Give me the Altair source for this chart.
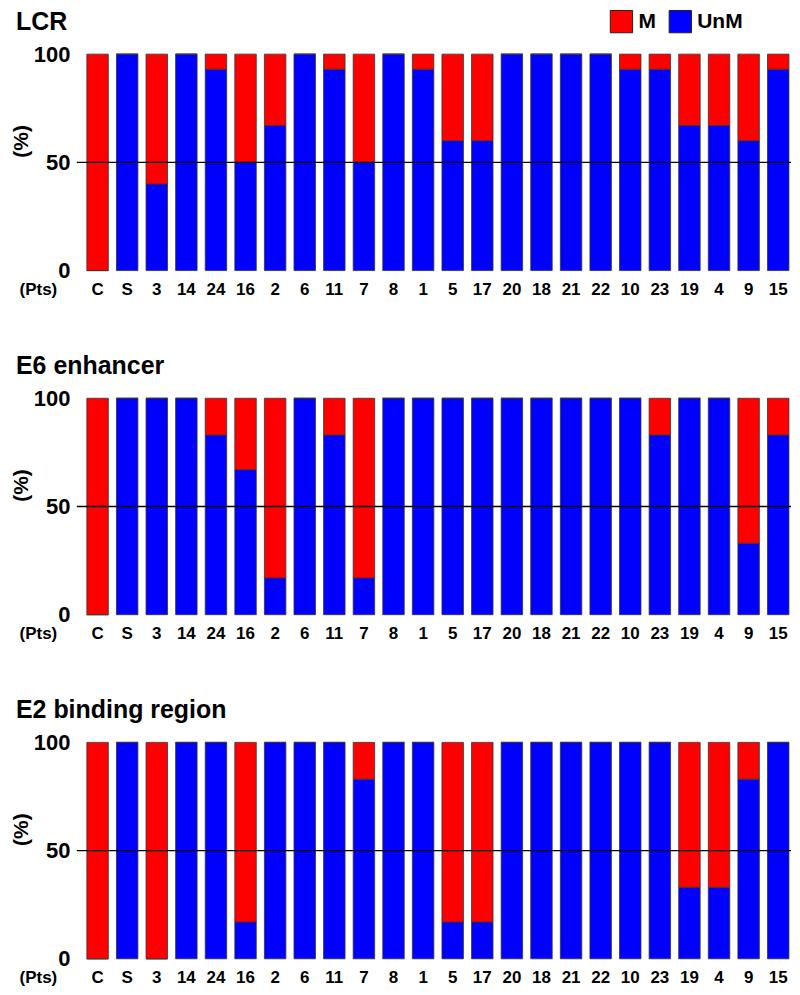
import altair as alt
import pandas as pd

pts = ["C", "S", "3", "14", "24", "16", "2", "6", "11", "7", "8", "1",
       "5", "17", "20", "18", "21", "22", "10", "23", "19", "4", "9", "15"]

regions = ["LCR", "E6 enhancer", "E2 binding region"]

# percentage of unmethylated (UnM) clones per patient; M = 100 - UnM
lcr_unm = [0, 100, 40, 100, 93, 50, 67, 100, 93, 50, 100, 93,
           60, 60, 100, 100, 100, 100, 93, 93, 67, 67, 60, 93]
e6_unm = [0, 100, 100, 100, 83, 67, 17, 100, 83, 17, 100, 100,
          100, 100, 100, 100, 100, 100, 100, 83, 100, 100, 33, 83]
e2_unm = [0, 100, 0, 100, 100, 17, 100, 100, 100, 83, 100, 100,
          17, 17, 100, 100, 100, 100, 100, 100, 33, 33, 83, 100]

status_names = ["M", "UnM"]
status_colors = ["#ff0000", "#0000ff"]

FONT = "Liberation Sans"


def make_df(unm):
    rows = []
    for p, u in zip(pts, unm):
        rows.append({"pt": p, "status": "UnM", "value": u, "ord": 0})
        rows.append({"pt": p, "status": "M", "value": 100 - u, "ord": 1})
    return pd.DataFrame(rows)


def panel(title, unm):
    df = make_df(unm)
    color_legend = alt.Legend(
        title=None, orient="none", direction="horizontal",
        legendX=534, legendY=-45,
        symbolType="square", symbolSize=500, symbolStrokeColor="#222",
        symbolStrokeWidth=1, symbolOpacity=1,
        labelFontSize=21, labelFontWeight="bold", labelFont=FONT,
        labelColor="black", labelOffset=5, columnPadding=10,
    )
    bars = alt.Chart(df).mark_bar(stroke="#333", strokeWidth=0.8, opacity=1).encode(
        x=alt.X("pt:N", sort=pts,
                scale=alt.Scale(paddingInner=0.275, paddingOuter=0.204, align=0.83),
                axis=alt.Axis(title="(Pts)", labelAngle=0, labelFontSize=17,
                              labelFontWeight="bold", labelFont=FONT,
                              labelColor="black", labelPadding=11,
                              ticks=False, domain=False,
                              titleFontSize=17, titleFontWeight="bold",
                              titleFont=FONT, titleColor="black",
                              titleX=-39, titleY=11, titleAlign="center",
                              titleBaseline="top")),
        y=alt.Y("value:Q", stack="zero",
                scale=alt.Scale(domain=[0, 100], nice=False),
                axis=alt.Axis(title="(%)", values=[0, 50, 100], grid=False,
                              ticks=False, domain=False, labelFontSize=22,
                              labelFontWeight="bold", labelFont=FONT,
                              labelColor="black", labelPadding=7,
                              titleFontSize=21, titleFontWeight="bold",
                              titleFont=FONT, titleColor="black",
                              titleX=-55, titleY=87, titleAlign="center",
                              titleBaseline="middle", titleAngle=270)),
        color=alt.Color("status:N",
                        scale=alt.Scale(domain=status_names, range=status_colors),
                        legend=color_legend),
        order=alt.Order("ord:Q"),
    )
    line_df = pd.DataFrame({"y": [50]})
    rule = alt.Chart(line_df).mark_rule(color="black", strokeWidth=1.3).encode(
        y="y:Q"
    )
    return alt.layer(bars, rule).properties(
        width=716, height=217,
        title=alt.TitleParams(text=title, anchor="start", fontSize=25,
                              fontWeight="bold", font=FONT, color="black",
                              offset=8, dx=5),
    )


chart = alt.vconcat(
    panel(regions[0], lcr_unm),
    panel(regions[1], e6_unm),
    panel(regions[2], e2_unm),
    spacing=57,
).properties(padding={"left": 3, "top": 0, "right": 0, "bottom": 0}).configure_view(stroke=None)

chart.save("out.html", embed_options={"renderer": "svg", "actions": False})
